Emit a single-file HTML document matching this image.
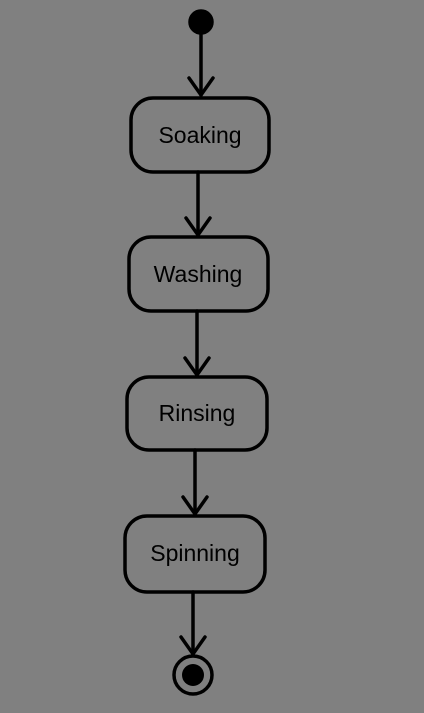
<!DOCTYPE html>
<html><head><style>html,body{margin:0;padding:0;background:#808080;}</style></head>
<body>
<svg width="424" height="713" xmlns="http://www.w3.org/2000/svg" style="display:block">
<rect width="424" height="713" fill="#808080"/>
<g stroke="#000" stroke-width="3.5" fill="none" stroke-linecap="round">
<circle cx="201" cy="22" r="11" fill="#000"/>
<line x1="201" y1="30" x2="201" y2="95"/><polyline points="189,78 201,95 213,78"/>
<rect x="131" y="98" width="138" height="74" rx="22"/>
<line x1="198" y1="172" x2="198" y2="235"/><polyline points="186,218 198,235 210,218"/>
<rect x="129" y="237" width="139" height="74" rx="22"/>
<line x1="197" y1="311" x2="197" y2="375"/><polyline points="185,358 197,375 209,358"/>
<rect x="127" y="377" width="140" height="73" rx="22"/>
<line x1="195" y1="450" x2="195" y2="514"/><polyline points="183,497 195,514 207,497"/>
<rect x="125" y="516" width="140" height="76" rx="22"/>
<line x1="193" y1="592" x2="193" y2="654"/><polyline points="181,637 193,654 205,637"/>
<circle cx="193" cy="675" r="19"/>
<circle cx="193" cy="675" r="11" fill="#000" stroke="none"/>
</g>
<g font-family="Liberation Sans, sans-serif" font-size="23" fill="#000" text-anchor="middle">
<text x="200" y="143">Soaking</text>
<text x="198" y="282">Washing</text>
<text x="197" y="421">Rinsing</text>
<text x="195" y="561">Spinning</text>
</g>
</svg>
</body></html>
